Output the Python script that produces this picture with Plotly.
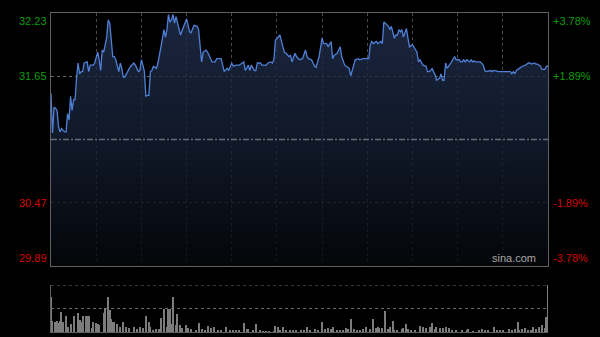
import plotly.graph_objects as go

# ---------------- data ----------------
prev_close = 31.06
pct_levels = [3.78, 1.89, -1.89, -3.78]
left_labels = ["32.23", "31.65", "30.47", "29.89"]
right_labels = ["+3.78%", "+1.89%", "-1.89%", "-3.78%"]
grid_minutes = [30, 60, 90, 120, 150, 180, 210, 240, 270, 300]
total_minutes = 330

minutes_a = [0, 1, 2, 3, 4, 5, 6, 7, 9, 10, 11, 12, 13, 14, 15, 16, 17, 18, 19, 20, 21, 22,
             24, 25, 26, 28, 29, 31, 32, 33, 34, 35, 37, 38, 39, 40, 41, 42, 43, 45, 46, 47,
             48, 49, 51, 52, 53, 55, 56, 58, 59, 60, 61, 62, 63, 64, 65, 66, 67, 68, 70, 71,
             73, 74, 75, 76, 77, 78, 79, 80, 81, 82]
prices_a = [31.49, 31.12, 31.36, 31.35, 31.33, 31.18, 31.13, 31.16, 31.13, 31.13, 31.30, 31.24,
            31.46, 31.33, 31.43, 31.43, 31.64, 31.77, 31.67, 31.69, 31.69, 31.77, 31.78, 31.69,
            31.75, 31.75, 31.77, 31.87, 31.80, 31.70, 31.89, 31.87, 32.01, 32.17, 32.14, 31.98,
            31.83, 31.83, 31.80, 31.69, 31.77, 31.72, 31.64, 31.64, 31.70, 31.72, 31.74, 31.77,
            31.75, 31.69, 31.70, 31.80, 31.75, 31.69, 31.46, 31.47, 31.47, 31.69, 31.70, 31.74,
            31.72, 31.77, 31.92, 32.01, 32.08, 32.01, 32.08, 32.22, 32.15, 32.17, 32.22, 32.14]

minutes_b = [83, 86, 88, 90, 92, 93, 95, 97, 98, 100, 101, 103, 104, 105, 107, 109, 110, 113,
             115, 117, 118, 120, 121, 123, 125, 127, 128, 129, 131, 132, 133, 135, 136, 137, 139,
             140, 141, 143, 144, 146, 147, 148, 149, 151, 152, 154, 155, 156, 158, 159, 160, 162,
             163, 165]
prices_b = [32.20, 32.03, 32.11, 32.18, 32.06, 32.05, 32.12, 32.11, 32.08, 31.78, 31.87, 31.89,
            31.87, 31.84, 31.78, 31.78, 31.81, 31.81, 31.69, 31.72, 31.70, 31.77, 31.74, 31.75,
            31.75, 31.77, 31.78, 31.70, 31.75, 31.70, 31.75, 31.70, 31.70, 31.77, 31.77, 31.75,
            31.75, 31.75, 31.77, 31.78, 31.77, 31.80, 31.98, 32.01, 32.03, 31.92, 31.87, 31.86,
            31.83, 31.84, 31.78, 31.86, 31.83, 31.80]

minutes_c = [167, 169, 170, 171, 173, 175, 176, 178, 180, 181, 183, 184, 186, 187, 188, 190, 192,
             193, 195, 196, 198, 199, 201, 202, 204, 205, 207, 210, 211, 212, 213, 214, 216, 217,
             219, 220, 221, 222, 224, 225, 226, 228, 229, 230, 231, 232, 233, 234, 236, 237, 238,
             240, 241, 243, 244, 245, 247, 249, 250]
prices_c = [31.81, 31.89, 31.83, 31.81, 31.80, 31.74, 31.73, 31.83, 32.00, 31.95, 31.95, 31.92,
            31.97, 31.81, 31.84, 31.86, 31.92, 31.83, 31.75, 31.74, 31.72, 31.65, 31.74, 31.80,
            31.81, 31.80, 31.81, 31.81, 31.81, 31.94, 31.97, 31.95, 31.97, 31.95, 31.97, 31.95,
            32.15, 32.14, 32.11, 32.08, 32.11, 32.00, 32.03, 32.03, 32.08, 32.06, 32.08, 32.01,
            32.09, 32.00, 31.92, 31.94, 31.92, 31.87, 31.78, 31.80, 31.75, 31.74, 31.69]

minutes_d = [251, 252, 253, 254, 255, 256, 258, 259, 260, 261, 262, 263, 264, 265, 266, 268, 269,
             270, 271, 272, 273, 274, 275, 276, 278, 279, 280, 281, 282, 283, 285, 287, 288, 289,
             291, 292, 293, 294, 295, 297, 300, 303, 305, 306, 307, 308, 309, 311, 313, 315, 317,
             318, 319, 321, 322, 323, 325, 326, 328, 329, 330]
prices_d = [31.69, 31.70, 31.72, 31.69, 31.66, 31.61, 31.63, 31.67, 31.61, 31.61, 31.77, 31.72,
            31.74, 31.75, 31.78, 31.83, 31.80, 31.80, 31.80, 31.78, 31.78, 31.80, 31.78, 31.80,
            31.78, 31.80, 31.78, 31.79, 31.78, 31.78, 31.78, 31.75, 31.70, 31.69, 31.70, 31.70,
            31.69, 31.70, 31.70, 31.69, 31.69, 31.69, 31.69, 31.67, 31.69, 31.67, 31.70, 31.72,
            31.74, 31.75, 31.77, 31.77, 31.76, 31.77, 31.76, 31.76, 31.74, 31.71, 31.71, 31.74,
            31.74]

vol_minutes_am = [0, 1, 3, 4, 5, 6, 7, 8, 10, 11, 13, 15, 18, 19, 20, 21, 23, 24, 25, 27, 28, 30,
                  31, 32, 35, 36, 38, 39, 40, 41, 42, 44, 46, 48, 50, 52, 55, 57, 59, 61, 63, 65,
                  66, 68, 70, 72, 73, 75, 77, 78, 79, 80, 81, 83, 84, 86, 87, 90, 91, 93, 96, 98,
                  100, 102, 104, 106, 108, 111, 113, 116, 119, 121, 123, 125, 128, 130, 131, 134,
                  136, 139, 141, 143, 145, 148, 149, 151, 152, 154, 156, 159, 161, 163]
vol_values_am = [74, 23, 22, 23, 20, 23, 43, 22, 33, 11, 18, 33, 40, 26, 22, 33, 34, 33, 33, 8,
                 22, 20, 18, 15, 40, 50, 75, 47, 27, 22, 22, 17, 11, 22, 11, 8, 10, 6, 10, 8, 33,
                 22, 11, 4, 6, 6, 29, 48, 11, 48, 48, 17, 74, 15, 38, 15, 8, 15, 8, 6, 4, 20, 6,
                 4, 13, 8, 10, 4, 4, 11, 4, 3, 3, 3, 20, 6, 7, 4, 17, 3, 2, 2, 2, 2, 13, 11, 4,
                 10, 4, 3, 4, 3]
vol_minutes_pm = [166, 168, 170, 172, 175, 177, 180, 182, 184, 186, 187, 190, 192, 194, 196, 197,
                  199, 201, 203, 205, 207, 209, 212, 214, 216, 217, 218, 220, 222, 224, 225, 227,
                  228, 230, 233, 234, 236, 237, 239, 242, 245, 247, 249, 252, 253, 255, 256, 258,
                  260, 262, 264, 266, 269, 273, 276, 277, 280, 284, 286, 288, 290, 294, 296, 298,
                  300, 304, 306, 308, 310, 311, 313, 315, 317, 319, 320, 322, 324, 326, 328, 329,
                  330]
vol_values_pm = [4, 4, 10, 3, 6, 4, 22, 7, 8, 6, 10, 3, 3, 4, 8, 6, 27, 7, 4, 3, 6, 10, 6, 27, 8,
                 10, 9, 8, 45, 6, 11, 23, 4, 4, 6, 8, 17, 6, 4, 4, 13, 10, 8, 10, 20, 6, 10, 8, 8,
                 11, 8, 4, 4, 3, 3, 6, 2, 3, 6, 4, 3, 10, 4, 3, 3, 6, 4, 6, 21, 4, 6, 8, 4, 4, 10,
                 6, 11, 15, 8, 31, 100]

# ---------------- build ----------------
minutes = minutes_a + minutes_b + minutes_c + minutes_d
prices = prices_a + prices_b + prices_c + prices_d
n = min(len(minutes), len(prices))
minutes, prices = minutes[:n], prices[:n]
vol_minutes = vol_minutes_am + vol_minutes_pm
vol_values = vol_values_am + vol_values_pm
k = min(len(vol_minutes), len(vol_values))
vol_minutes, vol_values = vol_minutes[:k], vol_values[:k]

levels = [prev_close * (1 + p / 100) for p in pct_levels]
y_hi, y_lo = levels[0], levels[-1]

FONT = "Liberation Sans, Arial, sans-serif"
GREEN = "#0a9e0a"
RED = "#d40000"
BORDER = "#606060"

fig = go.Figure()
fig.add_trace(go.Scatter(
    x=minutes, y=prices, mode="lines",
    line=dict(color="#4f80d6", width=1.3),
    fill="tozeroy",
    fillgradient=dict(type="vertical", start=y_lo, stop=y_hi,
                      colorscale=[[0, "rgba(5,7,11,0.8)"], [0.5, "rgba(20,30,50,0.8)"],
                                  [1, "rgba(33,48,80,0.8)"]]),
    hoverinfo="skip", showlegend=False, xaxis="x", yaxis="y"))

fig.add_trace(go.Bar(
    x=vol_minutes, y=vol_values, width=0.75,
    marker=dict(color="#7c7c7c", line=dict(width=0)),
    hoverinfo="skip", showlegend=False, xaxis="x2", yaxis="y2"))

main_bottom = 0.2069
vol_top = 0.1473

fig.update_layout(
    width=600, height=337,
    margin=dict(l=51, r=52, t=13, b=5),
    paper_bgcolor="#000000", plot_bgcolor="#000000",
    bargap=0,
    xaxis=dict(domain=[0, 1], range=[0, total_minutes], anchor="y",
               tickvals=grid_minutes, showticklabels=False, ticks="",
               showgrid=True, gridcolor="#4a4a4a", griddash="dot", gridwidth=1,
               showline=True, linecolor=BORDER, linewidth=1, mirror=True, zeroline=False),
    yaxis=dict(domain=[main_bottom, 1], range=[y_lo, y_hi], anchor="x",
               tickvals=[levels[1], levels[2]], showticklabels=False, ticks="",
               showgrid=True, gridcolor="#6a6a6a", griddash="dot", gridwidth=1,
               showline=True, linecolor=BORDER, linewidth=1, mirror=True, zeroline=False),
    xaxis2=dict(domain=[0, 1], range=[0, total_minutes], anchor="y2",
                showticklabels=False, ticks="", showgrid=False,
                showline=True, linecolor=BORDER, linewidth=1, zeroline=False),
    yaxis2=dict(domain=[0, vol_top], range=[0, 100], anchor="x2",
                tickvals=[50], showticklabels=False, ticks="",
                showgrid=True, gridcolor="#6a6a6a", griddash="dot", gridwidth=1,
                showline=True, linecolor=BORDER, linewidth=1, zeroline=False),
)

# previous-close line and volume top line
fig.add_shape(type="line", xref="x", yref="y", x0=0, x1=total_minutes,
              y0=prev_close, y1=prev_close,
              line=dict(color="#646c7a", width=1.5, dash="6px,2px,2px,2px"))
fig.add_shape(type="line", xref="x2", yref="y2", x0=0, x1=total_minutes, y0=100, y1=100,
              line=dict(color="#6a6a6a", width=1, dash="dot"))

# axis labels
anchors = ["top", "middle", "middle", "bottom"]
for lvl, lt, rt, pct, anc in zip(levels, left_labels, right_labels, pct_levels, anchors):
    col = GREEN if pct > 0 else RED
    fig.add_annotation(xref="paper", yref="y", x=0, y=lvl, text=lt, showarrow=False,
                       xanchor="right", yanchor=anc, xshift=-2,
                       font=dict(family=FONT, size=11, color=col))
    fig.add_annotation(xref="paper", yref="y", x=1, y=lvl, text=rt, showarrow=False,
                       xanchor="left", yanchor=anc, xshift=3,
                       font=dict(family=FONT, size=11, color=col))

fig.add_annotation(xref="paper", yref="y", x=1, y=y_lo, text="sina.com", showarrow=False,
                   xanchor="right", yanchor="bottom", xshift=-10,
                   font=dict(family=FONT, size=11, color="#a8a8a8"))

fig.write_html("out.html")
